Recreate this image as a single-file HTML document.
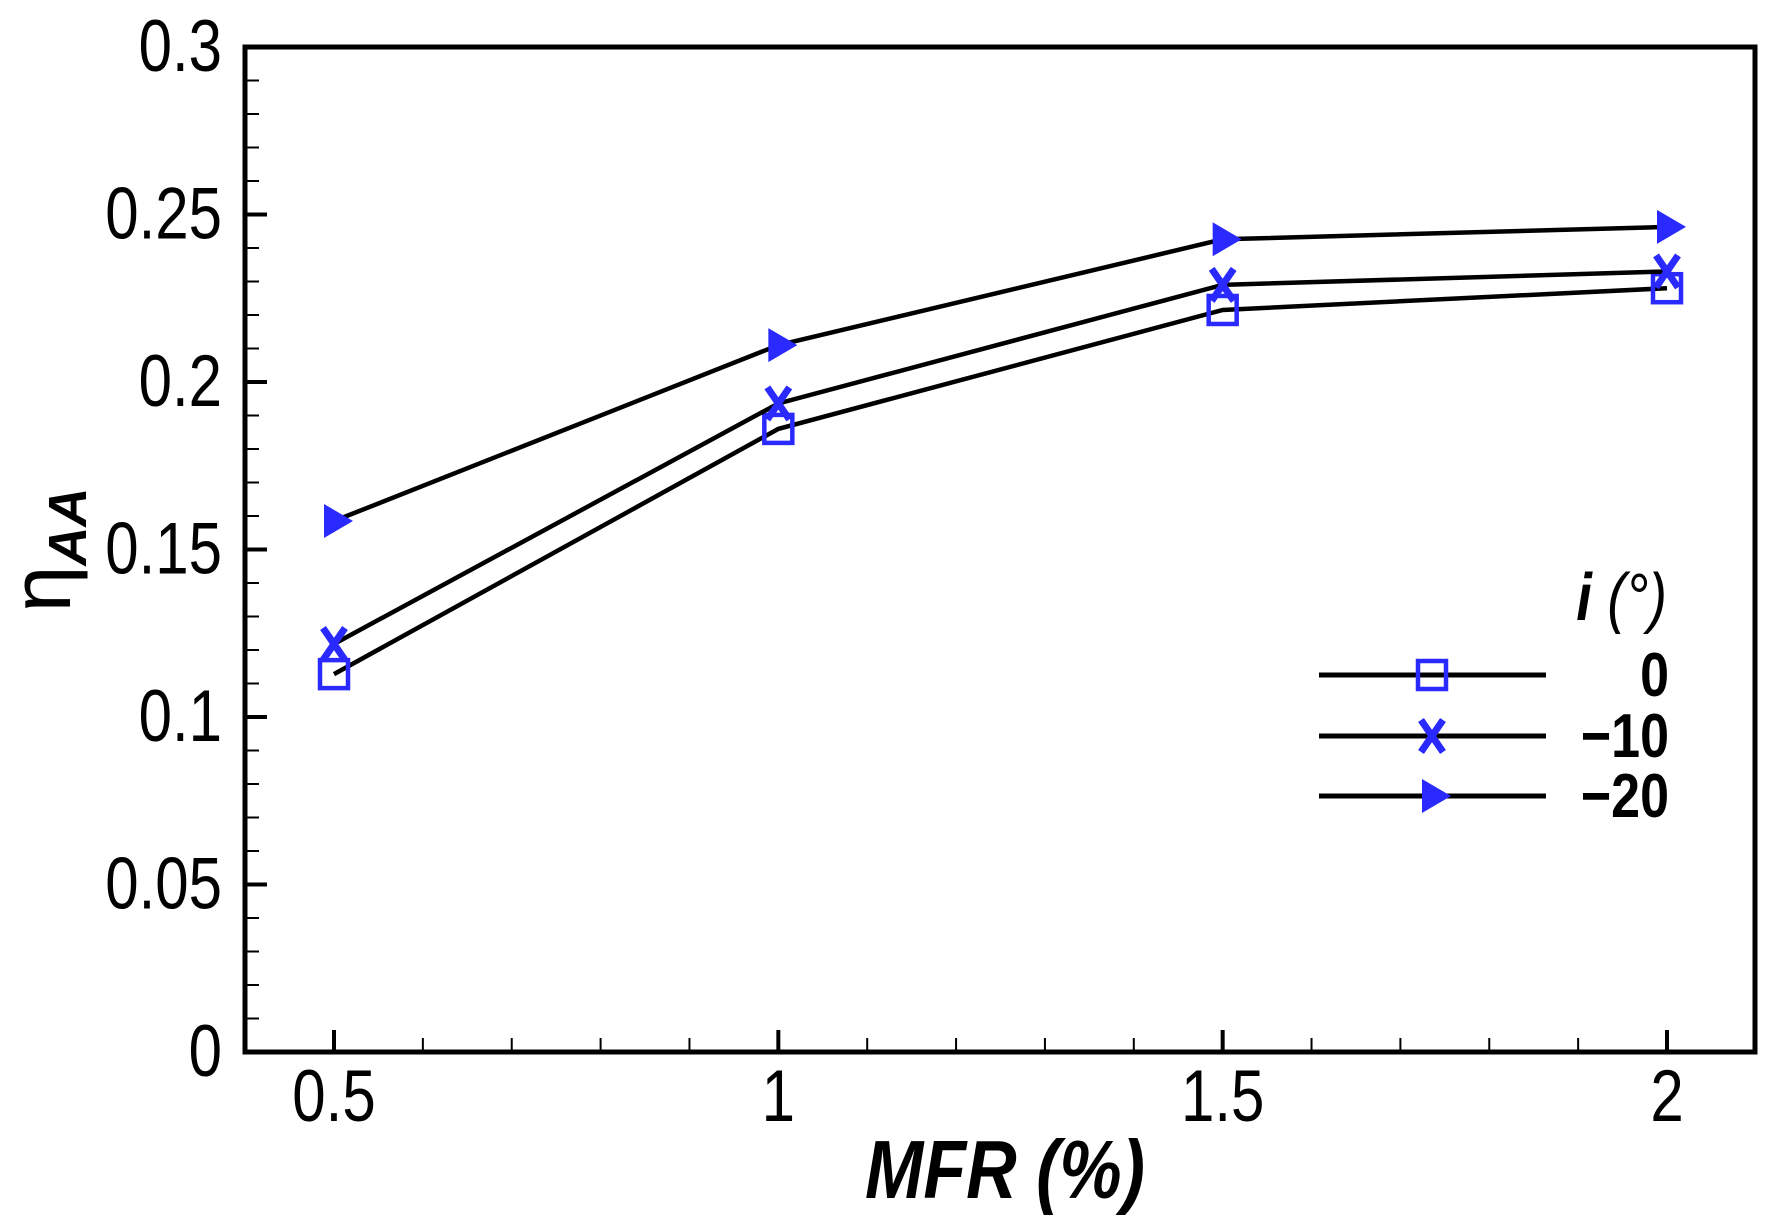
<!DOCTYPE html>
<html><head><meta charset="utf-8"><style>
html,body{margin:0;padding:0;background:#fff;}
svg{display:block;font-family:"Liberation Sans",sans-serif;}
</style></head><body>
<svg id="chart" width="1786" height="1222" viewBox="0 0 1786 1222">
</svg>
<script>
const categories = [0.5, 1, 1.5, 2];
const series0 = [0.1128, 0.186, 0.2215, 0.228];
const series10 = [0.1218, 0.1936, 0.229, 0.233];
const series20 = [0.1585, 0.211, 0.2426, 0.2463];
const yTicks = [0, 0.05, 0.1, 0.15, 0.2, 0.25, 0.3];
const yTickLabels = ["0", "0.05", "0.1", "0.15", "0.2", "0.25", "0.3"];
const xTicks = [0.5, 1, 1.5, 2];
const xTickLabels = ["0.5", "1", "1.5", "2"];
const legendLabels = ["0", "\u221210", "\u221220"];

const L=245,R=1755,T=47,B=1052;
const xs=v=>334+(v-0.5)*(1667-334)/1.5;
const ys=v=>B-(v/0.3)*(B-T);
const NS="http://www.w3.org/2000/svg";
const svg=document.getElementById('chart');
function mk(tag,attrs,parent){const e=document.createElementNS(NS,tag);for(const k in attrs)e.setAttribute(k,attrs[k]);(parent||svg).appendChild(e);return e;}
const BLUE="#2a2aff";
function stretchText(x,y,sy,attrs){
  return mk('text',Object.assign({x:0,y:0,transform:`translate(${x},${y}) scale(1,${sy})`},attrs));
}

for(let v=0;v<=0.3001;v+=0.01){
  const y=ys(v);const major=Math.abs(v/0.05-Math.round(v/0.05))<1e-6;
  const t=mk('line',{x1:L,x2:L+(major?22:14),y1:y,y2:y,stroke:'#000','stroke-width':major?4:2});
  
  
}
for(let v=0.4;v<=2.101;v+=0.1){
  const x=xs(v);if(x<L||x>R)continue;const major=Math.abs(v*2-Math.round(v*2))<1e-6;
  const t=mk('line',{x1:x,x2:x,y1:B,y2:B-(major?22:14),stroke:'#000','stroke-width':major?4:2});
  
  
}
const frame=mk('rect',{x:L,y:T,width:R-L,height:B-T,fill:'none',stroke:'#000','stroke-width':5});



yTicks.forEach((v,i)=>{
  const t=stretchText(222,ys(v)+24,1.22,{'text-anchor':'end','font-size':60});
  t.textContent=yTickLabels[i];
  
  
});
xTicks.forEach((v,i)=>{
  const t=stretchText(xs(v),1121,1.22,{'text-anchor':'middle','font-size':60});
  t.textContent=xTickLabels[i];
  
  
});

function marker(type,x,y,name){
  let m;
  if(type==='sq') m=mk('rect',{x:x-14,y:y-14,width:28,height:28,fill:'none',stroke:BLUE,'stroke-width':4.5});
  else if(type==='x') m=mk('path',{d:`M${x-11} ${y-16}L${x+11} ${y+16}M${x+11} ${y-16}L${x-11} ${y+16}`,stroke:BLUE,'stroke-width':7,fill:'none'});
  else m=mk('path',{d:`M${x-10} ${y-17}L${x+19} ${y}L${x-10} ${y+17}Z`,fill:BLUE});
  
  
}
const allSeries=[[series0,'sq','i-0'],[series10,'x','i-minus-10'],[series20,'tri','i-minus-20']];
allSeries.forEach(([data,type,nm])=>{
  const p=mk('polyline',{points:data.map((v,i)=>xs(categories[i])+','+ys(v)).join(' '),fill:'none',stroke:'#000','stroke-width':4.5});
  
  
  data.forEach((v,i)=>marker(type,xs(categories[i]),ys(v),'marker-'+nm));
});

const lt=stretchText(1667,620,1.2,{'text-anchor':'end','font-size':56,'font-style':'italic'});
lt.innerHTML='<tspan font-weight="bold">i</tspan> (°)';


const ly=[675,736,796];
allSeries.forEach(([d,type,nm],i)=>{
  const l=mk('line',{x1:1319,x2:1546,y1:ly[i],y2:ly[i],stroke:'#000','stroke-width':5});
  
  
  marker(type,1432,ly[i],'legend-marker');
  const t=stretchText(1669,ly[i]+21,1.2,{'text-anchor':'end','font-size':52,'font-weight':'bold'});
  t.textContent=legendLabels[i];
  
  
});

const xt=stretchText(1005,1198,1.18,{'text-anchor':'middle','font-size':70,'font-weight':'bold','font-style':'italic'});
xt.textContent='MFR (%)';


const yt=mk('text',{transform:'translate(70,550) rotate(-90)','text-anchor':'middle','font-size':84});
yt.innerHTML='η<tspan font-size="54" font-weight="bold" font-style="italic" dy="16">AA</tspan>';


</script>
</body></html>
